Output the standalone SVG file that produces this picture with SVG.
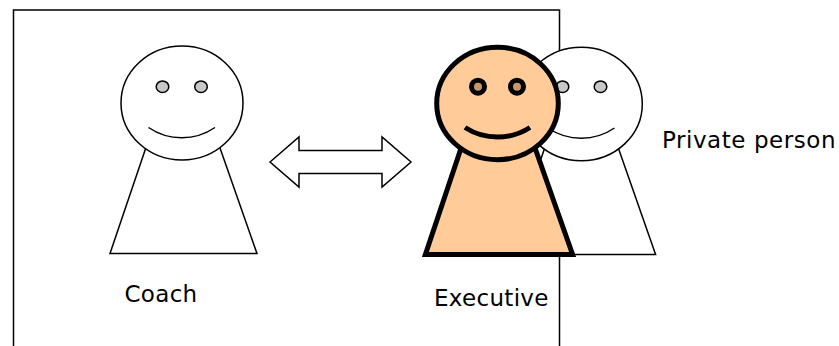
<svg xmlns="http://www.w3.org/2000/svg" width="839" height="346" viewBox="0 0 839 346">
  <style>
    .thin { stroke: #000; stroke-width: 1.5; stroke-linejoin: miter; }
    .thick { stroke: #000; stroke-width: 5; stroke-linejoin: miter; }
    .white { fill: #fff; }
    .skin { fill: #FFCC99; }
    .grayeye { fill: #C8C8C8; stroke: #000; stroke-width: 1.5; }
    .smile { fill: none; }
    .label { font-family: "DejaVu Sans", Verdana, sans-serif; font-size: 23px; fill: #000; letter-spacing: 0.3px; }
  </style>
  <rect width="839" height="346" fill="#fff"/>

  <g id="frame">
    <path d="M13.5,350 V10 H559.5 V350" fill="none" stroke="#000" stroke-width="1.5"/>
  </g>

  <g id="coach">
    <polygon class="white thin" points="148.5,140 217.2,140 257,253.5 110,253.5"/>
    <ellipse class="white thin" cx="182" cy="103" rx="61" ry="57"/>
    <ellipse class="grayeye" cx="162.5" cy="86.7" rx="6.3" ry="5.8"/>
    <ellipse class="grayeye" cx="201" cy="86.7" rx="6.3" ry="5.8"/>
    <path class="smile thin" d="M148.5,127.5 A59,59 0 0 0 215,127.5"/>
    <text class="label" x="124.5" y="302">Coach</text>
  </g>

  <g id="connectors">
    <polygon class="white thin" points="270,162 299,137 299,150.5 382,150.5 382,137 411,162 382,187 382,173.5 299,173.5 299,187"/>
  </g>

  <g id="private">
    <polygon class="white thin" points="547.3,140.5 615.7,140.5 655.6,254.5 507.9,254.5"/>
    <ellipse class="white thin" cx="581.3" cy="104" rx="61" ry="56.7"/>
    <ellipse class="grayeye" cx="562.5" cy="86.7" rx="6.3" ry="5.8"/>
    <ellipse class="grayeye" cx="600.5" cy="86.7" rx="6.3" ry="5.8"/>
    <path class="smile thin" d="M548,128 A59,59 0 0 0 614.5,128"/>
    <text class="label" x="662" y="148" style="letter-spacing:0.55px">Private person</text>
  </g>

  <g id="executive">
    <polygon class="skin thick" points="463.8,140 532.2,140 572.6,254.5 425.4,254.5"/>
    <ellipse class="skin thick" cx="497.5" cy="103.5" rx="60.8" ry="56.2"/>
    <circle cx="478" cy="86.7" r="6.5" fill="#C49A6C" stroke="#000" stroke-width="5"/>
    <circle cx="517" cy="86.7" r="6.5" fill="#C49A6C" stroke="#000" stroke-width="5"/>
    <path class="smile thick" stroke-linecap="butt" d="M465,127.5 A60,60 0 0 0 530,127.5"/>
    <text class="label" x="434" y="306">Executive</text>
  </g>
</svg>
